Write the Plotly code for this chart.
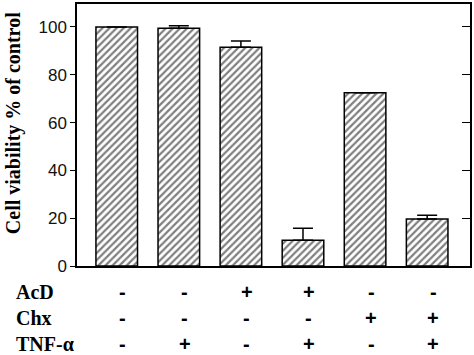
import plotly.graph_objects as go

categories = ["c1", "c2", "c3", "c4", "c5", "c6"]
viability = [100, 99.5, 91.5, 10.8, 72.5, 19.7]
errors = [0, 1.0, 2.6, 5.0, 0, 1.5]
row_labels = ["AcD", "Chx", "TNF-α"]
acd = ["-", "-", "+", "+", "-", "-"]
chx = ["-", "-", "-", "-", "+", "+"]
tnf = ["-", "+", "-", "+", "-", "+"]
y_ticks = [0, 20, 40, 60, 80, 100]

serif = "Liberation Serif, Times New Roman, serif"
sans = "Liberation Sans, Arial, sans-serif"

fig = go.Figure()
fig.add_trace(go.Bar(
    x=list(range(len(categories))), y=viability,
    width=0.67,
    marker=dict(color="white",
                line=dict(color="black", width=1.5),
                pattern=dict(shape="/", fgcolor="black", bgcolor="white",
                             size=5, solidity=0.45)),
    error_y=dict(type="data", array=errors, arrayminus=[0]*len(errors),
                 symmetric=False, color="black", thickness=1.5, width=10),
    showlegend=False,
))

fig.update_layout(
    width=474, height=355,
    margin=dict(l=77, r=2, t=3, b=89),
    plot_bgcolor="white", paper_bgcolor="white",
    xaxis=dict(range=[-0.64, 5.69], showticklabels=False, ticks="",
               showgrid=False, zeroline=False, showline=True,
               linecolor="black", linewidth=1.5, mirror=True),
    yaxis=dict(range=[0, 109.6], tickvals=y_ticks, ticks="outside",
               ticklen=5, tickwidth=1.3, tickcolor="black",
               tickfont=dict(family=sans, size=17, color="#111"),
               showgrid=False, zeroline=False, showline=True,
               linecolor="black", linewidth=1.5, mirror=True),
    yaxis2=dict(range=[0, 109.6], tickvals=y_ticks, ticks="inside",
                ticklen=8, tickwidth=1.3, tickcolor="black",
                showticklabels=False, overlaying="y", side="right",
                showgrid=False, zeroline=False, showline=False),
)

# invisible trace to anchor the right axis
fig.add_trace(go.Scatter(x=[0], y=[0], yaxis="y2", mode="markers",
                         marker=dict(opacity=0), showlegend=False,
                         hoverinfo="skip"))

fig.add_annotation(text="<b>Cell viability % of control</b>", textangle=-90,
                   xref="paper", yref="paper", x=-0.163, y=0.545,
                   xanchor="center", yanchor="middle", showarrow=False,
                   font=dict(family=serif, size=20, color="black"))

row_y = [292.5, 318.5, 344.5]
for lab, ry, signs in zip(row_labels, row_y, [acd, chx, tnf]):
    yp = (355 - 89 - ry) / (355 - 89 - 3)
    fig.add_annotation(text="<b>%s</b>" % lab, xref="paper", yref="paper",
                       x=-77/395 + 14/395, y=yp, xanchor="left",
                       yanchor="middle", showarrow=False,
                       font=dict(family=serif, size=20, color="black"))
    for i, s in enumerate(signs):
        fig.add_annotation(text="<b>%s</b>" % s, xref="x", yref="paper",
                           x=i, y=yp, xshift=6, xanchor="center",
                           yanchor="middle", showarrow=False,
                           font=dict(family=sans, size=20, color="black"))

fig.write_html("out.html", config={"displayModeBar": False},
               post_script="document.body.style.margin='0';document.body.style.padding='0';")
